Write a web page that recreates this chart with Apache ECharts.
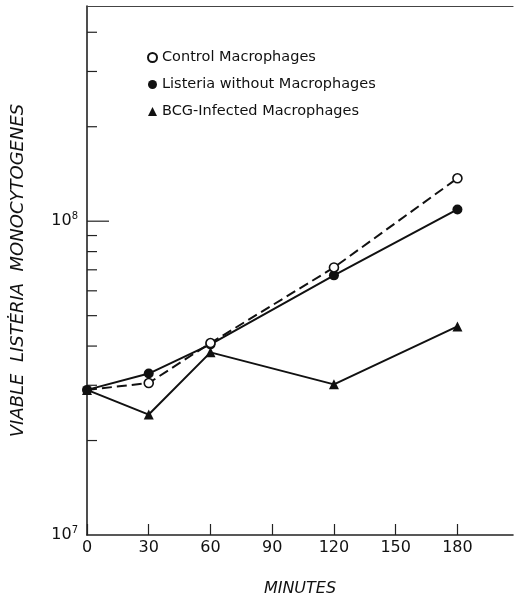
<!DOCTYPE html>
<html>
<head>
<meta charset="utf-8">
<script src="https://cdn.jsdelivr.net/npm/echarts@6/dist/echarts.min.js"></script>
<style>
  html, body { margin: 0; padding: 0; background: #fff; }
  #chart { width: 515px; height: 596px; }
</style>
</head>
<body>
<div id="chart"></div>
<script>
var minutes = [0, 30, 60, 120, 180];
var control = [2.9e7, 3.05e7, 4.09e7, 7.12e7, 1.37e8];
var listeria = [2.9e7, 3.27e7, 4.05e7, 6.72e7, 1.09e8];
var bcg = [2.9e7, 2.42e7, 3.82e7, 3.02e7, 4.62e7];
var xTicks = [0, 30, 60, 90, 120, 150, 180];
var majorTickValues = [1e8];
var minorTickValues = [2e7, 3e7, 4e7, 5e7, 6e7, 7e7, 8e7, 9e7, 2e8, 3e8, 4e8];

var font = 'DejaVu Sans';

function pairs(ys) {
    return minutes.map(function(m, i) { return [m, ys[i]]; });
}

var controlData = pairs(control);
// at 0 min the filled marker sits on top in the original
controlData[0] = { value: controlData[0], symbol: 'none' };

var option = {
    animation: false,
    backgroundColor: '#fff',
    textStyle: { fontFamily: font, color: '#111' },
    grid: { left: 87, right: 2, top: 6, bottom: 61, outerBoundsMode: 'none' },
    legend: {
        left: 142,
        top: 45,
        orient: 'vertical',
        itemGap: 12,
        itemWidth: 9,
        itemHeight: 9,
        textStyle: { fontFamily: font, fontSize: 14.5, color: '#111' },
        data: [
            { name: 'Control Macrophages', icon: 'circle' },
            { name: 'Listeria without Macrophages', icon: 'circle' },
            { name: 'BCG-Infected Macrophages', icon: 'triangle' }
        ]
    },
    xAxis: [{
        type: 'value',
        min: 0,
        max: 207,
        interval: 30,
        name: 'MINUTES',
        nameLocation: 'middle',
        nameGap: 46,
        nameTextStyle: { fontFamily: font, fontSize: 16, fontStyle: 'italic', color: '#111' },
        axisLine: { lineStyle: { color: '#222', width: 1.6 } },
        axisTick: { inside: true, length: 11, lineStyle: { color: '#222', width: 1.2 } },
        axisLabel: {
            margin: 5,
            fontSize: 16,
            color: '#111',
            showMaxLabel: false,
            formatter: function(v) { return xTicks.indexOf(v) >= 0 ? String(v) : ''; }
        },
        splitLine: { show: false }
    }, {
        type: 'value',
        position: 'top',
        min: 0,
        max: 207,
        axisLine: { show: true, lineStyle: { color: '#444', width: 1.2 } },
        axisTick: { show: false },
        axisLabel: { show: false },
        splitLine: { show: false }
    }],
    yAxis: {
        type: 'log',
        logBase: 10,
        min: function() { return 1e7; },
        max: function() { return 4.85e8; },
        name: 'VIABLE  LISTĖRIA  MONOCYTOGENES',
        nameLocation: 'middle',
        nameGap: 60,
        nameTextStyle: { fontFamily: font, fontSize: 18, fontStyle: 'italic', color: '#111' },
        axisLine: { show: true, lineStyle: { color: '#222', width: 1.6 } },
        axisTick: { show: false },
        axisLabel: {
            margin: 9,
            color: '#111',
            showMaxLabel: false,
            formatter: function(v) {
                var e = Math.round(Math.log(v) / Math.LN10);
                return '{b|10}{s|' + e + '}';
            },
            rich: {
                b: { fontSize: 16, fontFamily: font, color: '#111' },
                s: { fontSize: 10, fontFamily: font, color: '#111', padding: [0, 0, 9, 0] }
            }
        },
        splitLine: { show: false }
    },
    series: [{
        name: 'y ticks',
        type: 'custom',
        silent: true,
        data: majorTickValues.map(function(v) { return [0, v, 22]; })
            .concat(minorTickValues.map(function(v) { return [0, v, 10]; })),
        renderItem: function(params, api) {
            var p = api.coord([api.value(0), api.value(1)]);
            return {
                type: 'line',
                shape: { x1: p[0], y1: p[1], x2: p[0] + api.value(2), y2: p[1] },
                style: { stroke: '#222', lineWidth: 1.2 }
            };
        }
    }, {
        name: 'BCG-Infected Macrophages',
        type: 'line',
        data: pairs(bcg),
        symbol: 'triangle',
        symbolSize: 10,
        z: 2,
        lineStyle: { color: '#111', width: 2 },
        itemStyle: { color: '#111' }
    }, {
        name: 'Listeria without Macrophages',
        type: 'line',
        data: pairs(listeria),
        symbol: 'circle',
        symbolSize: 10,
        z: 3,
        lineStyle: { color: '#111', width: 2 },
        itemStyle: { color: '#111' }
    }, {
        name: 'Control Macrophages',
        type: 'line',
        data: controlData,
        symbol: 'circle',
        symbolSize: 9,
        z: 4,
        lineStyle: { color: '#111', width: 2, type: [10, 5] },
        itemStyle: { color: '#fff', borderColor: '#111', borderWidth: 1.6 }
    }]
};

var myChart = echarts.init(document.getElementById('chart'));
myChart.setOption(option);
</script>
</body>
</html>
